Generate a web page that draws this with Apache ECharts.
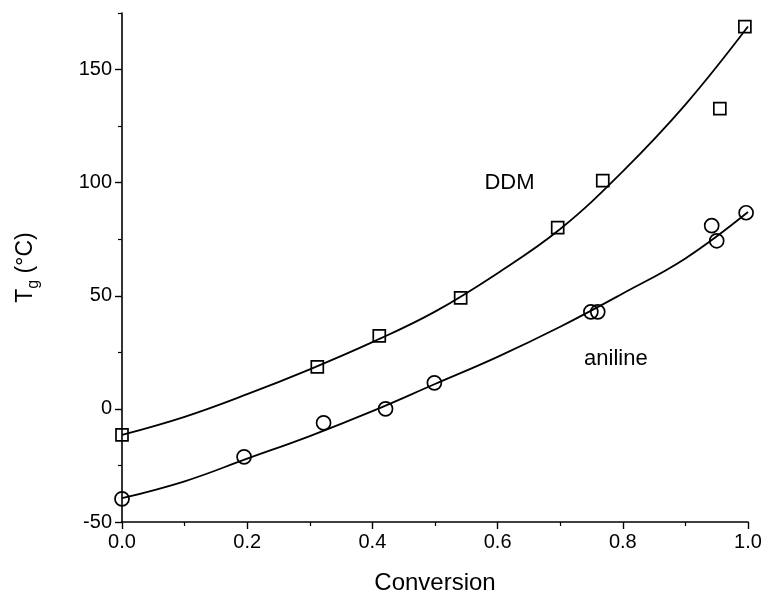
<!DOCTYPE html>
<html>
<head>
<meta charset="utf-8">
<script src="https://cdn.jsdelivr.net/npm/echarts@6/dist/echarts.min.js"></script>
<style>html,body{margin:0;padding:0;background:#fff;}#c{width:765px;height:600px;}</style>
</head>
<body>
<div id="c"></div>
<script>
// measured points (conversion, Tg °C)
var ddmPoints = [[0.0,-11.5],[0.312,18.6],[0.411,32.3],[0.541,49.1],[0.696,80.1],[0.768,100.9],[0.955,132.7],[0.995,169]];
var anilinePoints = [[0.0,-39.8],[0.195,-21.2],[0.322,-6.2],[0.421,0],[0.499,11.5],[0.749,42.9],[0.76,42.9],[0.942,81],[0.95,74.3],[0.997,86.7]];
// fitted curves
var curveX = [0,0.1,0.2,0.3,0.4,0.5,0.6,0.7,0.8,0.9,1.0];
var ddmCurve = [-11.5,-3.5,6.5,17.5,29.5,43,60,79.5,105,134.5,169];
var anilineCurve = [-39.5,-32,-22,-12,-1,11,23,36.3,51,66.5,87];
var yMajorTicks = [-50,0,50,100,150];
var yMinorTicks = [-25,25,75,125,175];
var labels = [{name:'DDM', value:[0.619,100]},{name:'aniline', value:[0.789,22]}];

var FONT = 'Liberation Sans, Arial, sans-serif';
function zip(xs, ys){ return xs.map(function(x,i){return [x, ys[i]];}); }

var chart = echarts.init(document.getElementById('c'));
var axisLine = {show:true, onZero:false, lineStyle:{color:'#000', width:1.6}};
chart.setOption({
  animation:false,
  backgroundColor:'#fff',
  grid:{left:122, right:17, top:13, bottom:77, containLabel:false},
  xAxis:{
    type:'value', min:0, max:1, interval:0.2,
    axisLine:axisLine,
    axisTick:{show:true, inside:false, length:7, lineStyle:{color:'#000', width:1.4}},
    minorTick:{show:true, splitNumber:2, length:4, lineStyle:{color:'#000', width:1.2}},
    splitLine:{show:false},
    axisLabel:{color:'#000', fontSize:20, fontFamily:FONT, margin:10, formatter:function(v){return v.toFixed(1);}},
    name:'Conversion', nameLocation:'middle', nameGap:49,
    nameTextStyle:{color:'#000', fontSize:24, fontFamily:FONT}
  },
  yAxis:[{
    type:'value', min:-50, max:175,
    axisLine:axisLine,
    axisTick:{show:true, inside:false, length:7, customValues:yMajorTicks, lineStyle:{color:'#000', width:1.4}},
    splitLine:{show:false},
    axisLabel:{color:'#000', fontSize:20, fontFamily:FONT, margin:10, customValues:yMajorTicks},
    name:'{t|T}{g|g}{c| (°C)}', nameLocation:'middle', nameGap:78,
    nameTextStyle:{color:'#000', fontFamily:FONT,
      rich:{
        t:{fontSize:23, fontFamily:FONT, color:'#000', lineHeight:30, verticalAlign:'top'},
        g:{fontSize:16, fontFamily:FONT, color:'#000', lineHeight:30, verticalAlign:'top', padding:[12,0,0,0]},
        c:{fontSize:23, fontFamily:FONT, color:'#000', lineHeight:30, verticalAlign:'top'}
      }}
  },{
    type:'value', min:-50, max:175, position:'left',
    axisLine:{show:false, onZero:false},
    axisTick:{show:true, inside:false, length:4, customValues:yMinorTicks, lineStyle:{color:'#000', width:1.2}},
    axisLabel:{show:false}, splitLine:{show:false}
  }],
  series:[
    {type:'line', data:zip(curveX, ddmCurve), smooth:0.4, showSymbol:false, lineStyle:{color:'#000', width:1.8}, z:2},
    {type:'line', data:zip(curveX, anilineCurve), smooth:0.4, showSymbol:false, lineStyle:{color:'#000', width:1.8}, z:2},
    {type:'scatter', data:ddmPoints, symbol:'rect', symbolSize:12, itemStyle:{opacity:1, color:'rgba(0,0,0,0)', borderColor:'#000', borderWidth:1.7}, z:3},
    {type:'scatter', data:anilinePoints, symbol:'circle', symbolSize:14, itemStyle:{opacity:1, color:'rgba(0,0,0,0)', borderColor:'#000', borderWidth:1.7}, z:3},
    {type:'scatter', data:labels, symbolSize:0, silent:true, itemStyle:{opacity:1},
      label:{show:true, position:'inside', formatter:'{b}', color:'#000', opacity:1, fontSize:22, fontFamily:FONT}, z:4}
  ]
});
</script>
</body>
</html>
